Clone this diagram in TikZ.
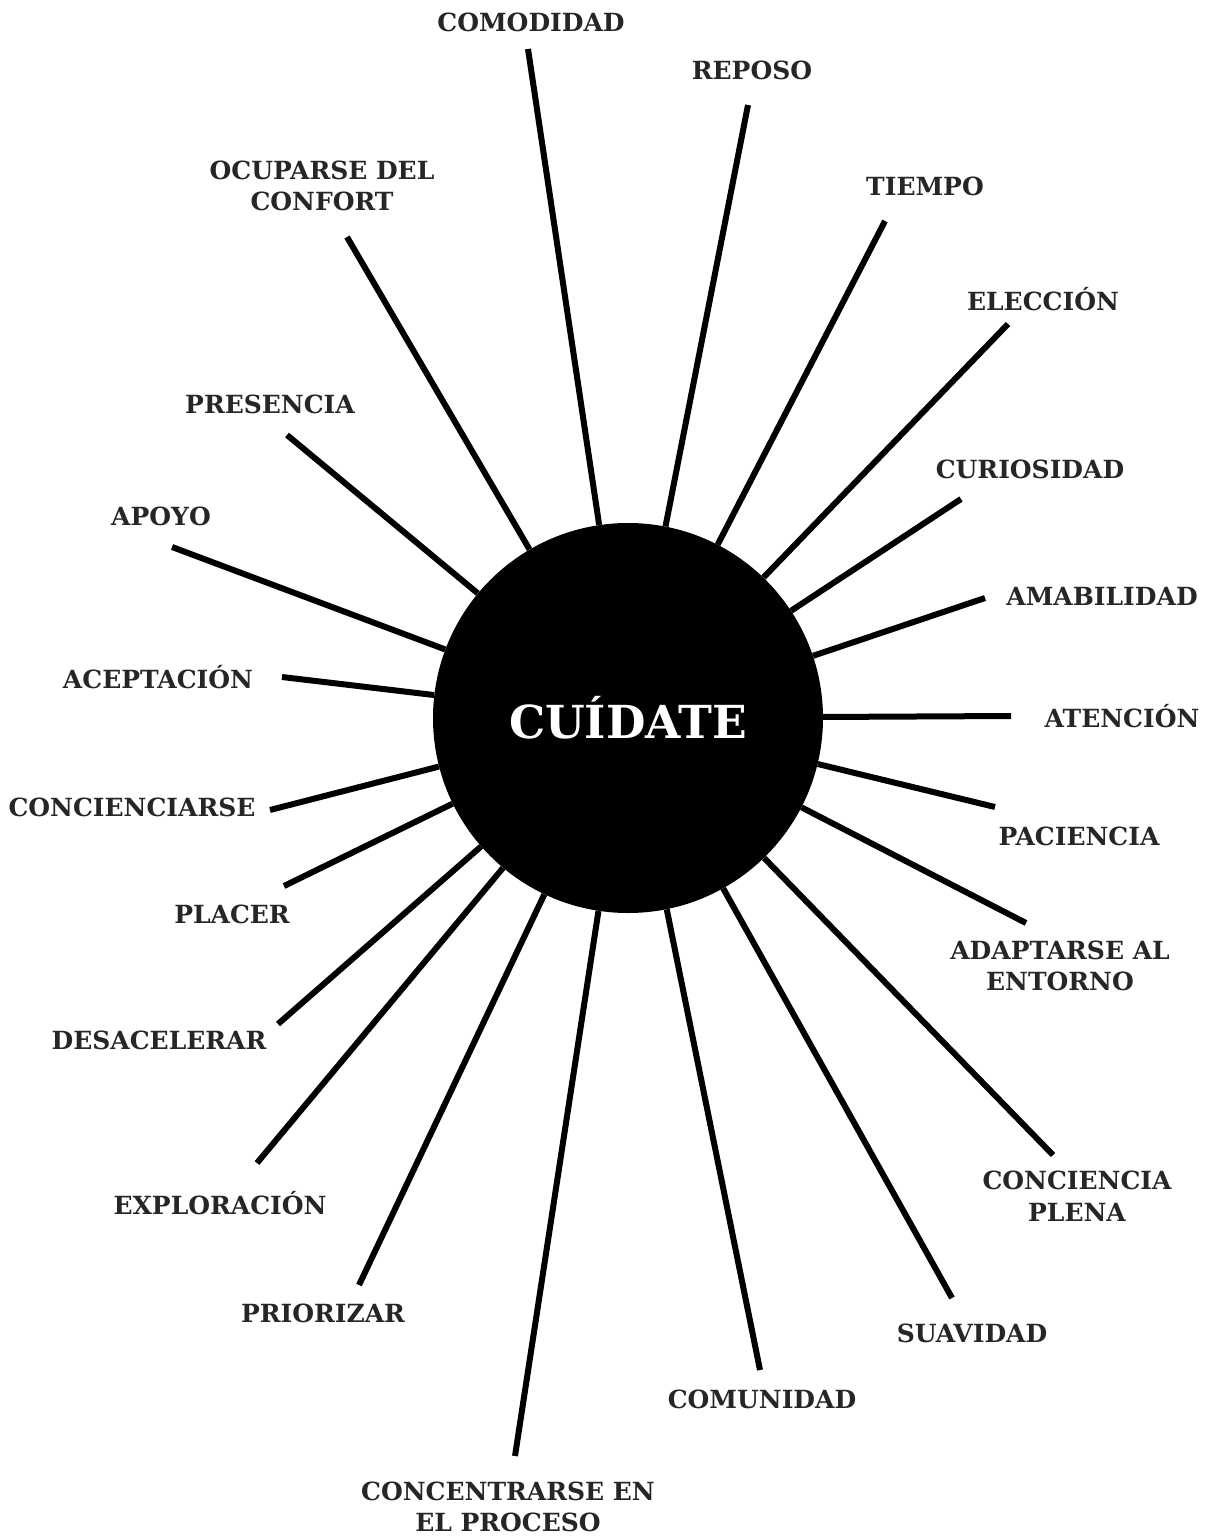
\documentclass[tikz,border=0pt]{standalone}
\usepackage{fontspec}
\setmainfont{DejaVu Serif}
\begin{document}
\begin{tikzpicture}[x=1pt,y=-1pt,
  ray/.style={line width=6pt,black},
  lbl/.style={text=black!85,font=\fontsize{25}{31.5}\selectfont\bfseries,align=center,inner sep=0pt},
  hub/.style={circle,fill=black,minimum size=390pt,inner sep=0pt,text=white,font=\fontsize{45.5}{50}\selectfont\bfseries}]
\useasboundingbox (0,0) rectangle (1214,1538);
\node[hub] (c) at (628,718) {CUÍDATE};
% outer ends
\coordinate (e1) at (528,49);
\coordinate (e2) at (748,105);
\coordinate (e3) at (885,221);
\coordinate (e4) at (1008,324);
\coordinate (e5) at (961,499);
\coordinate (e6) at (985,598);
\coordinate (e7) at (1011,716);
\coordinate (e8) at (995,807);
\coordinate (e9) at (1026,923);
\coordinate (e10) at (1053,1155);
\coordinate (e11) at (952,1298);
\coordinate (e12) at (760,1370);
\coordinate (e13) at (515,1456);
\coordinate (e14) at (359,1285);
\coordinate (e15) at (257,1163);
\coordinate (e16) at (278,1024);
\coordinate (e17) at (284,886);
\coordinate (e18) at (270,810);
\coordinate (e19) at (282,677);
\coordinate (e20) at (172,547);
\coordinate (e21) at (287,435);
\coordinate (e22) at (347,237);
\foreach \i in {1,...,22} \draw[ray] (e\i) -- (c);
% labels
\node[lbl] (l1) at (531,22) {COMODIDAD};
\node[lbl] (l2) at (752,70) {REPOSO};
\node[lbl] (l3) at (925,186) {TIEMPO};
\node[lbl] (l4) at (1043,299) {ELECCIÓN};
\node[lbl] (l5) at (1030,469) {CURIOSIDAD};
\node[lbl] (l6) at (1102,596) {AMABILIDAD};
\node[lbl] (l7) at (1122,716) {ATENCIÓN};
\node[lbl] (l8) at (1079,836) {PACIENCIA};
\node[lbl] (l9) at (1060,966) {ADAPTARSE AL\\ENTORNO};
\node[lbl] (l10) at (1077,1196) {CONCIENCIA\\PLENA};
\node[lbl] (l11) at (972,1333) {SUAVIDAD};
\node[lbl] (l12) at (762,1399) {COMUNIDAD};
\node[lbl] (l13) at (508,1507) {CONCENTRARSE EN\\EL PROCESO};
\node[lbl] (l14) at (323,1313) {PRIORIZAR};
\node[lbl] (l15) at (220,1203) {EXPLORACIÓN};
\node[lbl] (l16) at (159,1040) {DESACELERAR};
\node[lbl] (l17) at (232,914) {PLACER};
\node[lbl] (l18) at (132,807) {CONCIENCIARSE};
\node[lbl] (l19) at (158,677) {ACEPTACIÓN};
\node[lbl] (l20) at (161,516) {APOYO};
\node[lbl] (l21) at (270,404) {PRESENCIA};
\node[lbl] (l22) at (322,186) {OCUPARSE DEL\\CONFORT};
\end{tikzpicture}
\end{document}
